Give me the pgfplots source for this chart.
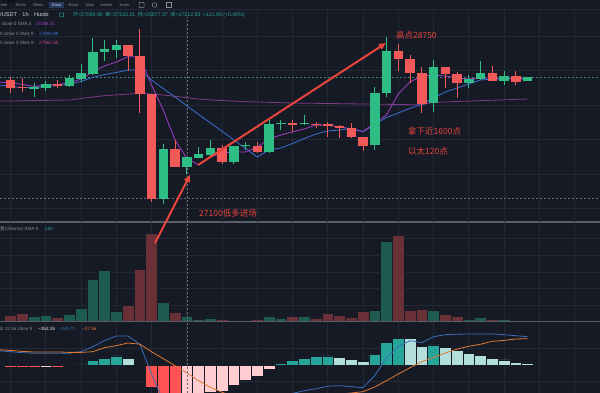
\documentclass[border=0pt]{standalone}
\usepackage{pgfplots}
\pgfplotsset{compat=1.18}
\usepackage{pgfplotstable}
\usepackage{fontspec}
\setmainfont{Liberation Sans}
\newfontfamily\cjk{Noto Sans CJK SC}
\usetikzlibrary{arrows.meta}

\definecolor{bg}{HTML}{161A25}
\definecolor{gridc}{HTML}{232836}
\definecolor{upc}{HTML}{2EBD85}
\definecolor{dnc}{HTML}{F25A5A}
\definecolor{vup}{HTML}{1D5A4F}
\definecolor{vdn}{HTML}{6A3038}
\definecolor{smaA}{HTML}{A23FC8}
\definecolor{smaB}{HTML}{3C6FD2}
\definecolor{smaC}{HTML}{7F3A86}
\definecolor{smaCt}{HTML}{C04A8E}
\definecolor{hdg}{HTML}{26A69A}
\definecolor{hlg}{HTML}{B2DFDB}
\definecolor{hlr}{HTML}{FFCDD2}
\definecolor{hdr}{HTML}{FF5252}
\definecolor{macdb}{HTML}{3A6FB8}
\definecolor{macdo}{HTML}{E07A36}
\definecolor{annot}{HTML}{E8453C}
\definecolor{txtg}{HTML}{8A8E99}
\definecolor{txtw}{HTML}{D1D4DC}
\definecolor{sep}{HTML}{5A5E69}
\definecolor{pline}{HTML}{3F7F78}
\definecolor{xhair}{HTML}{6A6D78}
\definecolor{tbsel}{HTML}{253A5E}

% candles: i open high low close
\pgfplotstableread{
i o h l c
2 28122 28198 28034 28146
3 28134 28222 28102 28186
5 28162 28294 28146 28258
6 28246 28426 28214 28318
7 28310 28734 28294 28574
8 28566 28714 28462 28602
9 28598 28714 28494 28658
13 26806 27466 26746 27406
15 27194 27306 27106 27306
16 27302 27430 27298 27342
17 27334 27514 27326 27414
19 27254 27442 27220 27442
20 27440 27494 27394 27446
22 27366 27754 27354 27706
23 27702 27754 27634 27710
25 27702 27814 27694 27708
31 27454 28154 27394 28074
32 28074 28750 28034 28586
36 27954 28474 27846 28386
39 28202 28294 28134 28246
40 28246 28462 28234 28322
42 28226 28342 28174 28282
44 28222 28266 28222 28266
}\candleUp
\pgfplotstableread{
i o h l c
0 28234 28274 28082 28134
1 28150 28258 28090 28134
4 28190 28234 28142 28158
10 28654 28654 28346 28522
11 28526 28846 27834 28066
12 28066 28066 26774 26806
14 27406 27514 27194 27194
18 27414 27454 27226 27254
21 27446 27494 27354 27366
24 27714 27754 27614 27698
26 27706 27734 27654 27694
27 27706 27734 27554 27682
28 27686 27694 27538 27654
29 27654 27718 27538 27546
30 27546 27546 27382 27446
33 28586 28666 28346 28482
34 28482 28534 28194 28322
35 28322 28394 27834 27946
37 28386 28386 28134 28306
38 28306 28334 28022 28202
41 28322 28406 28222 28222
43 28282 28342 28174 28214
}\candleDn

% moving averages
\pgfplotstableread{
i v
-1 28210
0 28198
1 28182
2 28156
3 28174
4 28180
5 28198
6 28246
7 28330
8 28402
9 28450
10 28514
11 28510
12 28174
13 27874
14 27514
15 27298
16 27214
17 27310
18 27358
19 27370
20 27370
21 27430
22 27526
23 27574
24 27610
25 27646
26 27694
27 27688
28 27674
29 27646
30 27614
31 27718
32 27814
33 28066
34 28210
35 28282
36 28294
37 28282
38 28258
39 28246
40 28258
41 28258
42 28252
43 28246
44 28246
}\smaFast
\pgfplotstableread{
i v
-1 28174
0 28158
1 28142
2 28146
3 28156
4 28168
5 28186
6 28216
7 28266
8 28300
9 28324
10 28354
11 28354
12 28234
13 28131
14 28030
15 27927
16 27821
17 27720
18 27620
19 27514
20 27413
21 27310
22 27394
23 27418
24 27472
25 27532
26 27586
27 27622
28 27634
29 27652
30 27614
31 27700
32 27784
33 27838
34 27894
35 27940
36 28018
37 28090
38 28138
39 28186
40 28234
41 28246
42 28246
43 28252
44 28252
}\smaMid
\pgfplotstableread{
i v
-1 27982
0 27982
5 27994
7 28030
8 28046
11 28074
12 28066
13 28054
16 28006
17 27994
20 27974
24 27958
30 27946
35 27936
36 27966
38 27976
44 28006
}\smaSlow

% volume
\pgfplotstableread{
i v
2 17
3 20
5 23
6 41
7 128
8 155
9 32
13 58
15 18
16 9
17 12
19 6
20 6
22 18
23 12
25 17
31 34
32 242
36 35
39 9
40 14
42 7
44 6
}\volUp
\pgfplotstableread{
i v
0 20
1 26
4 14
10 50
11 159
12 265
14 29
18 8
21 9
24 17
26 12
27 26
28 19
29 13
30 31
33 261
34 36
35 39
37 23
38 17
41 8
43 6
}\volDn

% MACD histogram
\pgfplotstableread{
i v
6 0.7
7 5
8 7
9 9.7
23 2.3
24 5.3
25 7.3
26 9
27 9.7
31 11.3
32 23
33 27.3
36 20.7
}\histDG
\pgfplotstableread{
i v
10 7
11 0.5
28 8.3
29 6.3
30 4
34 27
35 19
37 18.3
38 15
39 12.3
40 10.3
41 7.3
42 5.7
43 3.3
44 2
}\histLG
\pgfplotstableread{
i v
0 -1.3
1 -1.3
2 -1.3
4 -1.3
12 -22
13 -42
14 -52
}\histDR
\pgfplotstableread{
i v
3 -1.3
5 -0.8
15 -48
16 -38
17 -26.5
18 -25.5
19 -19.5
20 -14.5
21 -10.5
22 -3.7
}\histLR
\pgfplotstableread{
i v
-1 15
0 14
1 13
2 12.4
3 12.4
4 12.5
5 12.5
6 14
7 19
8 25
9 29.7
10 29.7
11 21.5
12 -8
13 -35
14 -52
15 -55
16 -53
17 -50
18 -52
19 -50.5
20 -47.5
21 -45
22 -38.7
23 -32
24 -27.7
25 -25
26 -23
27 -20.5
28 -20
29 -21
30 -22
31 -10
32 8
33 19
34 25
35 23
36 29
37 31
38 31.5
39 31.7
40 31.7
41 31.7
42 31
43 30
44 29
}\macdLine
\pgfplotstableread{
i v
-1 16
0 15.3
1 14.3
2 13.7
3 13.6
4 13.8
5 13.3
6 13.3
7 14
8 18
9 20
10 22.7
11 21.5
12 14
13 7
14 0
15 -7
16 -15
17 -21.5
18 -26.5
19 -31
20 -33
21 -34.5
22 -35
23 -34.3
24 -33
25 -32.3
26 -32
27 -30.2
28 -28.3
29 -27.3
30 -26
31 -21.3
32 -15
33 -8.3
34 -2
35 4
36 8.3
37 12.7
38 16.5
39 19.4
40 21.4
41 24.4
42 25.3
43 26.7
44 27
}\sigLine

\pgfplotsset{panel/.style={scale only axis, width=600pt, anchor=south west,
  xmin=-0.8936, xmax=50.17, axis line style={draw=none}, tick style={draw=none},
  xticklabels={}, yticklabels={}, grid=major, major grid style={gridc, line width=0.6pt},
  xtick={0,3,...,48}, clip mode=individual, enlargelimits=false},
  candle/.style={draw=none, mark=none, error bars/.cd, y dir=plus, y explicit, error mark=none}}

\begin{document}
\begin{tikzpicture}
\fill[bg] (0pt,0pt) rectangle (600pt,393pt);

% ---------- volume panel ----------
\begin{axis}[panel, at={(0pt,71pt)}, height=100pt, ymin=0, ymax=300, ytick={50,100,150,200,250}]
\addplot[ybar, bar width=11.75pt, bar shift=0pt, fill=vup, draw=bg, line width=0.6pt] table[x=i,y=v]{\volUp};
\addplot[ybar, bar width=11.75pt, bar shift=0pt, fill=vdn, draw=bg, line width=0.6pt] table[x=i,y=v]{\volDn};
\draw[xhair, dash pattern=on 2pt off 2pt, line width=0.5pt] (axis cs:15.08,0) -- (axis cs:15.08,300);
\end{axis}

% ---------- MACD panel ----------
\begin{axis}[panel, at={(0pt,0pt)}, height=71pt, ymin=-27.3, ymax=43.7, ytick={-16,17}]
\addplot[ybar, bar width=11.75pt, bar shift=0pt, fill=hdg, draw=bg, line width=0.6pt] table[x=i,y=v]{\histDG};
\addplot[ybar, bar width=11.75pt, bar shift=0pt, fill=hlg, draw=bg, line width=0.6pt] table[x=i,y=v]{\histLG};
\addplot[ybar, bar width=11.75pt, bar shift=0pt, fill=hdr, draw=bg, line width=0.6pt] table[x=i,y=v]{\histDR};
\addplot[ybar, bar width=11.75pt, bar shift=0pt, fill=hlr, draw=bg, line width=0.6pt] table[x=i,y=v]{\histLR};
\addplot[macdb, line width=0.8pt] table[x=i,y=v]{\macdLine};
\addplot[macdo, line width=0.8pt] table[x=i,y=v]{\sigLine};
\draw[xhair, dash pattern=on 2pt off 2pt, line width=0.5pt] (axis cs:15.08,-27.3) -- (axis cs:15.08,43.7);
\end{axis}

% separators
\draw[sep, line width=1.4pt] (0pt,171pt) -- (600pt,171pt);
\draw[sep, line width=1pt] (0pt,71pt) -- (600pt,71pt);

% ---------- price panel ----------
\begin{axis}[panel, at={(0pt,171pt)}, height=212pt, ymin=26530, ymax=29074,
  ytick={26692,27106,27520,27934,28348,28762}]
\draw[pline, dash pattern=on 2pt off 2pt, line width=0.5pt] (axis cs:-0.8936,28270) -- (axis cs:50.17,28270);
\draw[xhair, dash pattern=on 2pt off 2pt, line width=0.5pt] (axis cs:-0.8936,26814) -- (axis cs:50.17,26814);
\draw[xhair, dash pattern=on 2pt off 2pt, line width=0.5pt] (axis cs:15.08,26530) -- (axis cs:15.08,28990);
\addplot[smaC, line width=0.8pt] table[x=i,y=v]{\smaSlow};
\addplot[smaB, line width=0.8pt] table[x=i,y=v]{\smaMid};
\addplot[smaA, line width=0.8pt] table[x=i,y=v]{\smaFast};
% wicks (from low, upward by high-low)
\addplot[candle, error bar style={draw=upc, line width=1pt, solid}]
  table[x=i, y=l, y error expr={\thisrow{h}-\thisrow{l}}]{\candleUp};
\addplot[candle, error bar style={draw=dnc, line width=1pt, solid}]
  table[x=i, y=l, y error expr={\thisrow{h}-\thisrow{l}}]{\candleDn};
% bodies (from the lower of open/close, upward)
\addplot[candle, error bar style={draw=upc, line width=9.5pt, solid}]
  table[x=i, y=o, y error expr={max(\thisrow{c}-\thisrow{o},12)}]{\candleUp};
\addplot[candle, error bar style={draw=dnc, line width=9.5pt, solid}]
  table[x=i, y=c, y error expr={max(\thisrow{o}-\thisrow{c},12)}]{\candleDn};
% annotations
\draw[annot, line width=2pt, -{Triangle[length=7pt,width=6pt]}] (axis cs:12.30,26278) -- (axis cs:15.28,27094);
\draw[annot, line width=2pt, -{Triangle[length=7pt,width=6pt]}] (axis cs:15.96,27214) -- (axis cs:31.96,28678);
\node[anchor=west, inner sep=0pt, text=annot, font=\cjk\fontsize{8.5}{10}\selectfont] at (axis cs:16.04,26638) {27100低多进场};
\node[anchor=west, inner sep=0pt, text=annot, font=\cjk\fontsize{8.5}{10}\selectfont] at (axis cs:32.8,28774) {高点28750};
\node[anchor=west, inner sep=0pt, text=annot, font=\cjk\fontsize{8.5}{10}\selectfont] at (axis cs:33.83,27614) {拿下近1600点};
\node[anchor=west, inner sep=0pt, text=annot, font=\cjk\fontsize{8.5}{10}\selectfont] at (axis cs:33.83,27382) {以太120点};
\end{axis}

% ---------- toolbar and header texts ----------
\draw[gridc, line width=0.6pt] (0pt,384pt) -- (600pt,384pt);
\fill[tbsel] (49pt,385pt) rectangle (64pt,391pt);
\begin{scope}[every node/.style={anchor=west, inner sep=0pt, text=txtg, font=\fontsize{4}{4.5}\selectfont}]
\node at (0.5pt,388pt) {min};
\node at (15pt,388pt) {15min};
\node at (32.5pt,388pt) {30min};
\node[text=txtw] at (51.3pt,388pt) {1hour};
\node at (68pt,388pt) {4hour};
\node at (85pt,388pt) {1day};
\node at (100pt,388pt) {1week};
\node at (119pt,388pt) {1mon};
\end{scope}
\draw[txtg, line width=0.5pt, rounded corners=0.5pt] (139pt,385.5pt) rectangle (144pt,390.5pt);
\draw[txtg, line width=0.5pt] (154.5pt,388pt) circle (2.3pt);
\draw[txtg, line width=0.5pt] (166pt,385.5pt) rectangle (171pt,390.5pt);

\node[anchor=west, inner sep=0pt, text=txtw, font=\fontsize{5.6}{6}\selectfont] at (0pt,378pt) {/USDT $\cdot$ 1h $\cdot$ Huobi};
\draw[hdg, line width=0.5pt, rounded corners=0.5pt] (59.5pt,376pt) rectangle (63.5pt,380pt);
\node[anchor=west, inner sep=0pt, text=hdg, font=\fontsize{5.2}{6}\selectfont] at (72.7pt,378pt)
  {{\cjk 开}=27090.90\enspace{\cjk 高}=27233.21\enspace{\cjk 低}=25977.37\enspace{\cjk 收}=27212.85\enspace+121.95 (+0.45\%)};

\begin{scope}[every node/.style={anchor=west, inner sep=0pt, font=\fontsize{4.6}{5}\selectfont}]
\node[text=txtg] at (1.7pt,369pt) {close 0 SMA 5};
\node[text=smaA] at (35.7pt,369pt) {27264.01};
\node[text=txtg] at (0pt,359pt) {0 close 0 SMA 9};
\node[text=smaB] at (39pt,359pt) {27890.89};
\node[text=txtg] at (0pt,349.7pt) {0 close 0 SMA 9};
\node[text=smaCt] at (39pt,349.7pt) {27962.85};
\node[text=txtg] at (0pt,163.7pt) {{\cjk 量}(Volume) SMA 9};
\node[text=hdg] at (45pt,163.7pt) {150};
\node[text=txtg] at (0pt,63.7pt) {D 12 26 close 9};
\node[text=white] at (38pt,63.7pt) {−152.15};
\node[text=macdb] at (58pt,63.7pt) {−189.71};
\node[text=macdo] at (82pt,63.7pt) {−37.56};
\end{scope}

\pgfresetboundingbox
\path[use as bounding box] (0pt,0pt) rectangle (600pt,393pt);
\end{tikzpicture}
\end{document}
